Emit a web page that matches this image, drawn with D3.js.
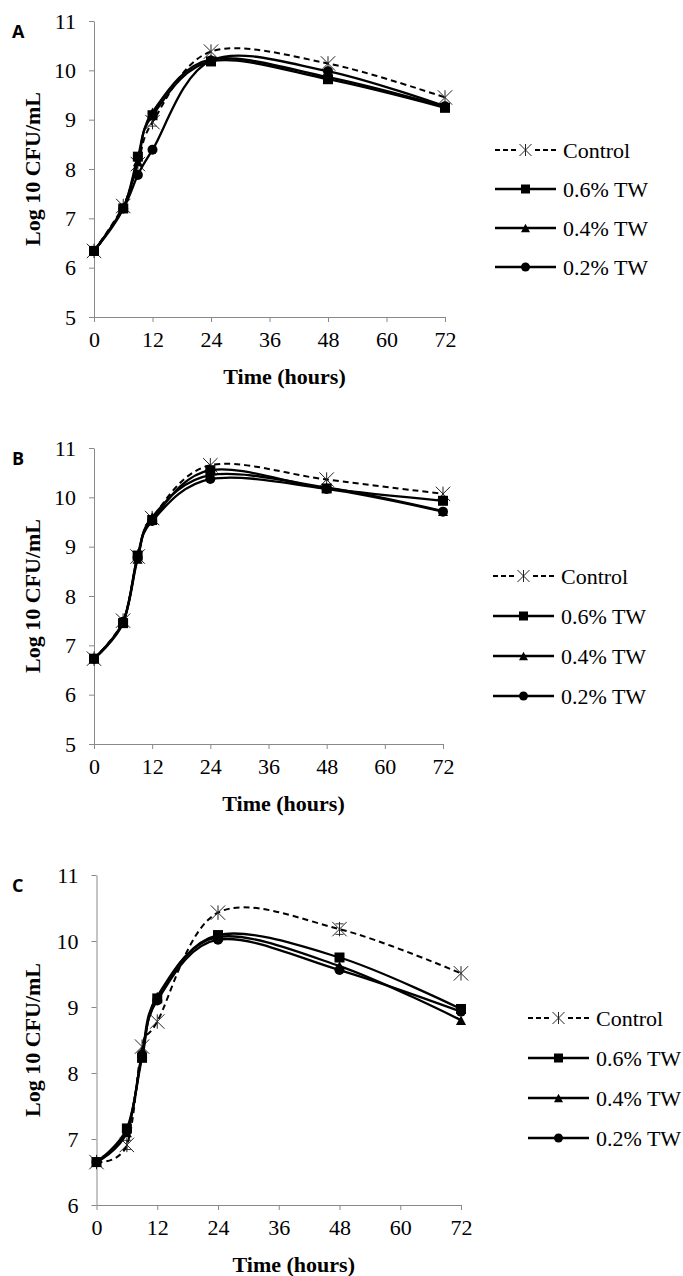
<!DOCTYPE html>
<html>
<head>
<meta charset="utf-8">
<script src="https://cdn.jsdelivr.net/npm/d3@7"></script>
<style>
  body { margin: 0; background: #fff; }
  svg { display: block; }
  .tick text { font-family: "Liberation Serif", "Times New Roman", serif; }
</style>
</head>
<body>
<div id="chart"></div>
<script>
// sampling times (hours)
const hours = [0, 6, 9, 12, 24, 48, 72];
const seriesNames = ["Control", "0.6% TW", "0.4% TW", "0.2% TW"];
const xTicks = [0, 12, 24, 36, 48, 60, 72];

// panel A  (log10 CFU/mL)
const aControl = [6.34, 7.25, 8.10, 8.95, 10.38, 10.14, 9.45];
const aTW06    = [6.34, 7.20, 8.25, 9.09, 10.18, 9.82, 9.24];
const aTW04    = [6.34, 7.22, 8.15, 9.15, 10.22, 9.86, 9.26];
const aTW02    = [6.34, 7.20, 7.88, 8.39, 10.20, 9.98, 9.27];

// panel B
const bControl = [6.73, 7.50, 8.80, 9.58, 10.65, 10.36, 10.07];
const bTW06    = [6.73, 7.45, 8.82, 9.54, 10.55, 10.18, 9.93];
const bTW04    = [6.73, 7.47, 8.75, 9.60, 10.45, 10.20, 9.72];
const bTW02    = [6.73, 7.48, 8.78, 9.52, 10.37, 10.17, 9.71];

// panel C
const cControl = [6.65, 6.91, 8.40, 8.78, 10.43, 10.18, 9.51];
const cTW06    = [6.65, 7.16, 8.23, 9.13, 10.09, 9.75, 8.97];
const cTW04    = [6.65, 7.10, 8.30, 9.16, 10.06, 9.62, 8.80];
const cTW02    = [6.65, 7.12, 8.28, 9.10, 10.02, 9.56, 8.93];

// error bars on the control series (visible ones only)
const aControlErr = [0, 0, 0, 0.08, 0, 0, 0];
const bControlErr = [0, 0, 0, 0, 0, 0, 0];
const cControlErr = [0, 0.07, 0, 0, 0, 0.08, 0];

const panels = [
  { letter: "A", series: [aControl, aTW06, aTW04, aTW02], err: aControlErr, yDomain: [5, 11],
    left: 94, right: 445, top: 21, bottom: 317, legendX: 495, legendY: 150, legendGap: 39 },
  { letter: "B", series: [bControl, bTW06, bTW04, bTW02], err: bControlErr, yDomain: [5, 11],
    left: 94, right: 443, top: 448, bottom: 744, legendX: 493, legendY: 576, legendGap: 40 },
  { letter: "C", series: [cControl, cTW06, cTW04, cTW02], err: cControlErr, yDomain: [6, 11],
    left: 96.5, right: 461, top: 875, bottom: 1205, legendX: 528, legendY: 1018, legendGap: 40 }
];

const width = 683, height = 1276;
const axisColor = "#898989";
const serif = '"Liberation Serif", "Times New Roman", serif';

const svg = d3.select("#chart").append("svg")
    .attr("width", width)
    .attr("height", height);

// marker shapes
function drawMarker(g, kind, x, y, s) {
  if (kind === "Control") {
    const r = s * 0.6;
    g.append("path")
      .attr("d", `M${x},${y - r}L${x},${y + r}M${x - r},${y - r}L${x + r},${y + r}M${x - r},${y + r}L${x + r},${y - r}`)
      .attr("stroke", "#222").attr("stroke-width", 1).attr("fill", "none");
  } else if (kind === "0.6% TW") {
    g.append("rect").attr("x", x - s / 2).attr("y", y - s / 2)
      .attr("width", s).attr("height", s).attr("fill", "#000");
  } else if (kind === "0.4% TW") {
    const h = s * 0.95;
    g.append("path")
      .attr("d", `M${x},${y - h / 2}L${x + s / 2},${y + h / 2}L${x - s / 2},${y + h / 2}Z`)
      .attr("fill", "#000");
  } else {
    g.append("circle").attr("cx", x).attr("cy", y).attr("r", s / 2).attr("fill", "#000");
  }
}

panels.forEach(p => {
  const g = svg.append("g");

  const x = d3.scaleLinear().domain([0, 72]).range([p.left, p.right]);
  const y = d3.scaleLinear().domain(p.yDomain).range([p.bottom, p.top]);

  // axes
  const xAxis = g.append("g")
      .attr("transform", `translate(0,${p.bottom})`)
      .call(d3.axisBottom(x).tickValues(xTicks).tickSize(5).tickPadding(4).tickSizeOuter(0));
  const yAxis = g.append("g")
      .attr("transform", `translate(${p.left},0)`)
      .call(d3.axisLeft(y).ticks(p.yDomain[1] - p.yDomain[0]).tickSize(5).tickPadding(13).tickSizeOuter(0));
  [xAxis, yAxis].forEach(a => {
    a.select(".domain").attr("stroke", axisColor);
    a.selectAll(".tick line").attr("stroke", axisColor);
    a.selectAll(".tick text").attr("fill", "#000").style("font-size", "22px");
  });
  xAxis.selectAll(".tick text").attr("dy", "0.95em");

  // panel letter
  g.append("text")
      .attr("x", 12).attr("y", p.top + 17)
      .style("font-family", '"Open Sans", "Liberation Sans", sans-serif')
      .style("font-weight", "bold").style("font-size", "18px")
      .text(p.letter);

  // axis titles
  g.append("text")
      .attr("transform", `translate(40,${(p.top + p.bottom) / 2}) rotate(-90)`)
      .attr("text-anchor", "middle")
      .style("font-family", serif).style("font-weight", "bold").style("font-size", "22px")
      .text("Log 10 CFU/mL");
  g.append("text")
      .attr("x", (p.left + p.right) / 2 + 15).attr("y", p.bottom + 67)
      .attr("text-anchor", "middle")
      .style("font-family", serif).style("font-weight", "bold").style("font-size", "22px")
      .text("Time (hours)");

  const line = d3.line()
      .x((d, i) => x(hours[i]))
      .y(d => y(d))
      .curve(d3.curveCatmullRom.alpha(0));

  // error bars for control
  p.err.forEach((e, i) => {
    if (!e) return;
    const v = p.series[0][i], cx = x(hours[i]);
    g.append("path")
      .attr("d", `M${cx - 4},${y(v + e)}H${cx + 4}M${cx},${y(v + e)}V${y(v - e)}M${cx - 4},${y(v - e)}H${cx + 4}`)
      .attr("stroke", "#333").attr("stroke-width", 1).attr("fill", "none");
  });

  // draw control first, then 0.2, 0.4, 0.6 on top
  [0, 3, 2, 1].forEach(k => {
    const vals = p.series[k];
    const name = seriesNames[k];
    g.append("path")
      .attr("d", line(vals))
      .attr("fill", "none")
      .attr("stroke", "#000")
      .attr("stroke-width", k === 0 ? 2 : 2.3)
      .attr("stroke-dasharray", k === 0 ? "6,4" : null);
    vals.forEach((v, i) => drawMarker(g, name, x(hours[i]), y(v), k === 0 ? 12 : 10));
  });

  // legend
  seriesNames.forEach((name, k) => {
    const ly = p.legendY + k * p.legendGap;
    g.append("line")
      .attr("x1", p.legendX).attr("x2", p.legendX + 61)
      .attr("y1", ly).attr("y2", ly)
      .attr("stroke", "#000").attr("stroke-width", k === 0 ? 2 : 2.3)
      .attr("stroke-dasharray", k === 0 ? "5,3" : null);
    if (k === 0) {
      g.append("rect").attr("x", p.legendX + 24).attr("y", ly - 6).attr("width", 13).attr("height", 12).attr("fill", "#fff");
    }
    drawMarker(g, name, p.legendX + 30.5, ly, k === 0 ? 10 : 9);
    g.append("text")
      .attr("x", p.legendX + 68).attr("y", ly)
      .attr("dy", "0.35em")
      .style("font-family", serif).style("font-size", "22px")
      .text(name);
  });
});
</script>
</body>
</html>
